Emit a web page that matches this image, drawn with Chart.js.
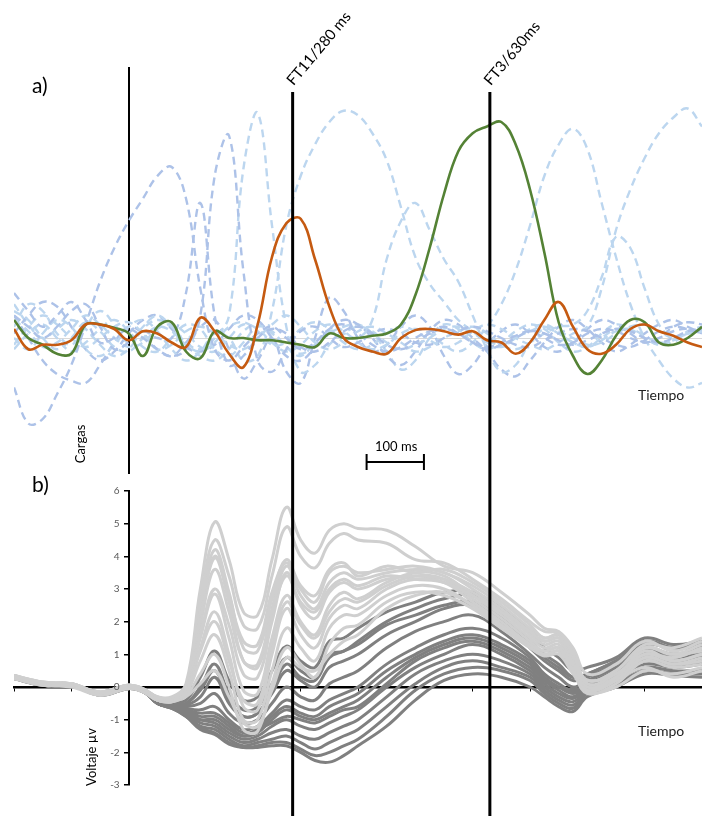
<!DOCTYPE html>
<html lang="es">
<head>
<meta charset="utf-8">
<title>Cargas factoriales y voltaje</title>
<script src="https://cdn.jsdelivr.net/npm/chart.js@4.4.1/dist/chart.umd.min.js"></script>
<style>
  body { margin: 0; background: #fff; }
  #lienzo { position: relative; width: 702px; height: 816px; overflow: hidden; font-family: Lato, 'Open Sans', sans-serif; }
  #lienzo canvas { position: absolute; left: 0; top: 0; }
  .txt { position: absolute; white-space: nowrap; color: #000; line-height: 1; }
  .rot { transform: translate(-50%, -50%) rotate(-90deg); }
</style>
</head>
<body>
<div id="lienzo">
  <canvas id="graficoA" width="702" height="816"></canvas>
  <canvas id="graficoB" width="702" height="816"></canvas>
  <div class="txt" style="left:32px;top:74px;font-size:21px">a)</div>
  <div class="txt" style="left:32px;top:473px;font-size:21px">b)</div>
  <div class="txt rot" style="left:80px;top:444px;font-size:13px">Cargas</div>
  <div class="txt rot" style="left:91px;top:757px;font-size:13px">Voltaje µv</div>
  <div class="txt" style="left:638px;top:388px;font-size:14px;color:#222">Tiempo</div>
  <div class="txt" style="left:638px;top:724px;font-size:14px;color:#222">Tiempo</div>
  <div class="txt" style="left:375px;top:440px;font-size:13px">100 ms</div>
</div>
<script>
// ---- panel a: cargas factoriales (ms) ----
const tiempoA = [-200,-175,-150,-125,-100,-75,-50,-25,
  0,25,50,75,100,125,150,175,
  200,225,250,275,300,325,350,375,
  400,425,450,475,500,525,550,575,
  600,625,650,675,700,725,750,775,
  800,825,850,875,900,925,950,975,1000]

const verdeFT3 = [0.08,0.0,-0.03,-0.07,-0.07,0.06,0.06,0.045,
  0.02,-0.08,0.05,0.07,-0.06,-0.09,0.03,0.0,
  0.0,-0.01,-0.01,-0.02,-0.03,-0.04,0.02,0.0,
  0.0,0.01,0.02,0.06,0.19,0.40,0.64,0.83,
  0.91,0.94,0.96,0.86,0.66,0.38,0.07,-0.08,
  -0.16,-0.10,0.01,0.08,0.07,-0.02,-0.03,0.0,0.05]

const naranjaFT11 = [0.04,-0.05,-0.03,-0.03,-0.01,0.06,0.06,0.04,
  -0.01,0.03,0.02,-0.02,-0.04,0.09,0.03,-0.07,
  -0.13,0.06,0.36,0.51,0.53,0.35,0.14,0.0,
  -0.04,-0.06,-0.07,0.0,0.035,0.04,0.03,0.015,
  0.03,-0.01,-0.02,-0.07,-0.02,0.08,0.16,0.05,
  -0.05,-0.07,-0.03,0.04,0.06,0.03,0.01,-0.02,-0.04]

const otrosFactores = [
  { tono: 'oscuro', v: [-0.22,-0.38,-0.36,-0.25,-0.12,0.06,0.25,0.40,
    0.52,0.62,0.72,0.76,0.62,0.22,-0.05,-0.10,
    -0.04,0.02,0.05,0.0,-0.05,-0.02,0.04,0.06,
    0.02,-0.03,-0.06,-0.04,0.0,0.03,0.05,0.02,
    -0.02,-0.04,-0.02,0.01,0.03,0.0,-0.03,-0.02,
    0.02,0.04,0.03,0.0,-0.02,0.0,0.03,0.04,0.02] },
  { tono: 'oscuro', v: [0.1,0.05,0.0,0.05,0.12,0.15,0.05,-0.05,
    -0.02,0.03,0.0,0.0,0.2,0.6,0.1,-0.12,
    -0.08,0.0,0.04,0.02,-0.04,-0.06,-0.02,0.03,
    0.05,0.02,-0.03,-0.05,-0.02,0.02,0.04,0.02,
    -0.02,-0.05,-0.03,0.0,0.03,0.02,-0.01,-0.03,
    -0.01,0.02,0.04,0.03,0.0,-0.02,0.0,0.03,0.04] },
  { tono: 'oscuro', v: [0.2,0.12,0.05,0.1,0.16,0.08,-0.02,0.0,
    0.04,0.0,-0.05,-0.08,-0.05,0.1,0.72,0.9,
    0.3,-0.1,-0.15,-0.05,0.03,0.05,0.0,-0.04,
    -0.02,0.02,0.04,0.02,-0.02,-0.03,0.0,0.03,
    0.05,0.03,0.0,-0.03,-0.04,-0.01,0.02,0.04,
    0.03,0.0,-0.03,-0.04,-0.01,0.03,0.05,0.04,0.02] },
  { tono: 'claro', v: [0.05,0.15,0.12,0.02,-0.03,0.05,0.12,0.06,
    -0.02,0.05,0.1,0.05,-0.02,-0.05,0.0,0.1,
    0.75,1.0,0.5,0.05,-0.15,-0.12,-0.03,0.02,
    0.05,0.03,-0.02,-0.05,-0.03,0.0,0.04,0.05,
    0.02,-0.01,-0.03,0.0,0.04,0.06,0.03,0.0,
    -0.03,-0.02,0.02,0.05,0.06,0.03,0.0,0.02,0.05] },
  { tono: 'claro', v: [0.0,-0.05,0.02,0.08,0.05,-0.05,-0.08,-0.03,
    0.05,0.08,0.03,-0.05,-0.1,-0.06,0.02,0.0,
    -0.1,-0.08,0.12,0.5,0.72,0.86,0.96,1.01,
    0.99,0.91,0.79,0.58,0.36,0.24,0.16,0.08,
    0.03,-0.02,-0.04,0.0,0.03,0.05,0.02,-0.02,
    -0.04,-0.01,0.03,0.04,0.01,-0.02,-0.01,0.02,0.04] },
  { tono: 'claro', v: [-0.05,0.02,0.06,0.0,-0.06,-0.02,0.04,0.08,
    0.03,-0.04,-0.06,0.0,0.06,0.04,-0.05,-0.08,
    -0.02,0.05,0.03,-0.04,-0.08,-0.02,0.03,0.02,
    0.0,0.08,0.35,0.52,0.6,0.48,0.35,0.25,
    0.1,-0.05,-0.15,-0.12,-0.02,0.04,0.02,-0.02,
    -0.04,0.0,0.04,0.03,0.0,-0.03,-0.01,0.02,0.03] },
  { tono: 'claro', v: [0.08,0.03,-0.04,-0.02,0.04,0.1,0.06,0.0,
    -0.04,-0.02,0.04,0.06,0.02,-0.04,-0.06,0.0,
    0.06,0.04,-0.02,-0.06,-0.03,0.03,0.06,0.03,
    -0.02,-0.05,-0.03,0.02,0.04,0.02,-0.03,-0.06,
    -0.02,0.05,0.15,0.3,0.5,0.72,0.86,0.93,
    0.84,0.6,0.36,0.15,0.0,-0.1,-0.18,-0.22,-0.2] },
  { tono: 'claro', v: [-0.03,0.05,0.1,0.06,0.0,-0.04,0.0,0.05,
    0.07,0.02,-0.05,-0.03,0.03,0.05,0.02,-0.03,
    -0.05,0.0,0.06,0.1,0.05,-0.02,-0.05,-0.02,
    0.03,0.05,0.02,-0.02,-0.06,-0.04,0.0,0.03,
    0.05,0.02,-0.03,-0.05,-0.02,0.02,0.05,0.06,
    0.12,0.27,0.45,0.4,0.22,0.06,0.0,0.02,0.03] },
  { tono: 'claro', v: [0.12,0.08,0.0,-0.05,0.0,0.07,0.03,-0.04,
    -0.06,0.0,0.05,0.03,-0.03,-0.06,-0.02,0.05,
    0.07,0.03,-0.03,-0.02,0.04,0.07,0.04,-0.02,
    -0.05,-0.03,0.02,0.05,0.03,-0.01,-0.04,-0.02,
    0.03,0.06,0.04,0.0,-0.03,-0.05,-0.02,0.02,
    0.05,0.22,0.48,0.66,0.8,0.91,0.98,1.02,0.94] },
  { tono: 'oscuro', v: [0.1,0.0,-0.1,-0.16,-0.19,-0.2,-0.12,-0.02,
    0.05,0.02,-0.05,-0.08,-0.02,0.05,0.08,-0.05,
    -0.18,-0.1,0.0,-0.15,-0.2,0.0,0.18,0.12,
    0.0,-0.06,-0.03,0.05,0.1,0.05,-0.08,-0.16,
    -0.12,-0.03,0.03,0.06,0.02,-0.04,-0.06,-0.02,
    0.04,0.08,0.06,0.02,-0.02,0.0,0.05,0.07,0.06] },
  { tono: 'oscuro', v: [0.02,0.1,0.16,0.14,0.05,-0.05,-0.1,-0.06,
    0.02,0.08,0.1,0.04,-0.04,-0.06,-0.03,0.04,
    0.1,0.08,0.0,-0.08,-0.1,-0.04,0.04,0.08,
    0.06,0.0,-0.08,-0.12,-0.06,0.03,0.08,0.06,
    0.0,-0.06,-0.14,-0.17,-0.1,-0.02,0.05,0.08,
    0.04,-0.02,-0.06,-0.03,0.02,0.06,0.08,0.05,0.02] },
  { tono: 'claro', v: [0.15,0.06,0.0,0.04,0.08,0.04,-0.03,-0.08,
    -0.05,0.04,0.08,0.05,-0.03,-0.08,-0.1,-0.05,
    0.03,0.06,0.02,-0.04,-0.07,-0.03,0.02,0.05,
    0.06,0.02,-0.06,-0.14,-0.1,0.0,0.06,0.04,
    -0.02,-0.05,-0.02,0.03,0.06,0.04,-0.02,-0.06,
    -0.04,0.02,0.06,0.04,0.0,-0.03,-0.02,0.03,0.05] }
]

const factorTiempos = [286, 630]
const factorEtiquetas = ['FT11/280 ms', 'FT3/630ms']
const barraEscala = [415, 515]

// ---- panel b: voltaje (µV) ----
const tiempoB = [-200,-150,-100,-50,0,25,50,75,100,125,150,175,200,225,250,275,300,325,350,375,400,
  450,500,550,600,650,700,725,750,775,800,850,900,950,1000]
const voltajeTicks = [-3,-2,-1,0,1,2,3,4,5,6]

const ondasClaras = [
  [0.35,0.15,0.1,-0.15,0.05,-0.05,-0.3,-0.3,0.1, 3.0,5.05,3.9,2.3,2.2,3.9,5.5,4.5,4.1,4.8,5.0,4.85,4.8,4.3,3.7,3.5,2.9,2.2,1.8,1.7,1.2,0.4,0.7,1.4,1.1,1.4],
  [0.3,0.1,0.05,-0.2,0.0,-0.1,-0.35,-0.35,0.0, 2.6,4.5,3.4,1.9,1.8,3.4,4.9,4.0,3.65,4.4,4.7,4.5,4.4,3.9,3.8,3.3,2.7,2.0,1.7,1.65,1.0,0.2,0.5,1.3,1.2,1.5],
  [0.25,0.1,0.1,-0.2,0.05,-0.1,-0.4,-0.4,-0.1, 2.3,4.2,2.9,1.2,1.1,2.7,3.9,3.1,2.8,3.6,3.8,3.4,3.7,3.5,3.6,3.2,2.6,1.9,1.5,1.6,1.1,0.1,0.4,1.0,0.9,1.2],
  [0.3,0.05,0.0,-0.25,0.0,-0.15,-0.4,-0.45,-0.15, 2.1,3.95,2.6,0.8,0.7,2.4,3.7,2.8,2.4,3.2,3.5,3.3,3.5,3.6,3.5,3.0,2.4,1.7,1.4,1.5,0.9,0.0,0.3,1.1,0.8,1.0],
  [0.35,0.15,0.05,-0.15,0.05,-0.05,-0.3,-0.35,-0.1, 1.6,3.0,1.9,0.4,0.3,2.0,3.5,2.5,2.1,2.9,3.2,3.0,3.3,3.4,3.3,2.9,2.3,1.6,1.3,1.4,0.8,-0.1,0.2,0.9,0.7,0.9],
  [0.3,0.1,0.1,-0.2,0.0,-0.1,-0.4,-0.4,-0.1, 1.5,2.85,1.5,-0.1,-0.2,1.5,2.8,2.0,1.6,2.5,2.9,2.7,3.2,3.5,3.4,2.8,2.2,1.5,1.2,1.3,0.7,0.0,0.3,1.2,1.0,1.1],
  [0.25,0.05,0.05,-0.25,-0.05,-0.15,-0.4,-0.45,-0.2, 1.2,2.3,1.0,-0.6,-0.7,1.0,2.4,1.6,1.2,2.1,2.5,2.4,3.0,3.3,3.2,2.6,2.0,1.3,1.1,1.2,0.5,-0.2,0.1,0.8,0.6,0.7],
  [0.3,0.1,0.05,-0.2,0.0,-0.1,-0.35,-0.4,-0.2, 0.8,1.6,0.5,-1.0,-1.0,0.5,1.8,1.2,0.8,1.8,2.2,2.2,2.8,3.1,3.0,2.5,1.9,1.2,1.0,1.1,0.5,-0.15,0.0,0.5,0.4,0.6],
  [0.35,0.1,0.1,-0.15,0.05,-0.1,-0.35,-0.4,-0.25, 0.4,1.0,0.0,-1.3,-1.35,0.1,1.2,0.7,0.3,1.3,1.8,1.9,2.6,2.9,2.8,2.4,1.8,1.2,0.95,1.0,0.4,-0.1,0.2,0.6,0.3,0.5],
  [0.3,0.1,0.05,-0.2,0.0,-0.1,-0.4,-0.45,-0.3, 0.1,0.5,-0.3,-1.1,-1.2,-0.1,0.9,0.6,0.5,1.0,1.4,1.6,2.4,2.8,2.9,2.5,1.9,1.3,1.0,1.1,0.6,0.2,0.4,1.0,0.9,1.2],
  [0.3,0.1,0.1,-0.2,0.05,-0.1,-0.35,-0.4,-0.1, 1.9,3.6,2.3,0.8,0.6,2.2,3.4,2.6,2.3,3.0,3.3,3.1,3.4,3.3,3.2,2.8,2.3,1.7,1.4,1.5,1.0,0.1,0.3,1.0,0.8,1.0],
  [0.3,0.1,0.05,-0.2,0.0,-0.1,-0.4,-0.4,-0.15, 1.1,2.0,0.8,-0.4,-0.5,1.2,2.6,1.9,1.5,2.3,2.7,2.6,3.1,3.4,3.3,2.7,2.1,1.4,1.1,1.2,0.6,0.0,0.2,0.9,0.7,0.8],
  [0.35,0.15,0.1,-0.15,0.05,-0.05,-0.3,-0.35,0.0, 2.2,4.0,2.8,1.4,1.3,2.9,3.8,3.0,2.6,3.5,3.7,3.5,3.6,3.7,3.5,3.1,2.5,1.8,1.5,1.6,1.0,0.2,0.5,1.2,1.0,1.3]
]

const ondasOscuras = [
  [0.3,0.1,0.05,-0.2,0.0,-0.1,-0.4,-0.45,-0.4, 0.3,1.1,0.2,-0.4,-0.3,0.5,1.25,0.8,0.6,1.4,1.5,1.8,2.3,2.6,2.9,2.9,2.4,1.7,1.2,0.9,0.5,0.6,0.9,1.5,1.3,1.4],
  [0.25,0.05,0.05,-0.25,-0.05,-0.15,-0.45,-0.5,-0.5, 0.0,0.7,-0.2,-0.7,-0.6,0.1,0.9,0.5,0.3,1.0,1.1,1.4,2.0,2.4,2.7,2.8,2.2,1.4,1.0,0.7,0.3,0.4,0.8,1.3,1.2,1.3],
  [0.3,0.1,0.1,-0.2,0.0,-0.1,-0.45,-0.5,-0.55, -0.3,0.3,-0.5,-0.9,-0.8,-0.2,0.5,0.2,0.0,0.6,0.8,1.0,1.6,2.0,2.4,2.5,2.0,1.2,0.8,0.5,0.2,0.3,0.7,1.2,1.0,1.1],
  [0.35,0.1,0.05,-0.2,0.0,-0.1,-0.45,-0.5,-0.6, -0.5,-0.2,-0.8,-1.1,-1.0,-0.5,0.0,-0.3,-0.4,0.1,0.3,0.5,1.2,1.7,2.0,2.2,1.7,1.0,0.6,0.3,0.0,0.2,0.6,1.1,1.0,1.2],
  [0.3,0.1,0.05,-0.2,0.0,-0.1,-0.45,-0.55,-0.65, -0.7,-0.6,-1.0,-1.3,-1.2,-0.8,-0.4,-0.6,-0.7,-0.4,-0.2,0.0,0.7,1.2,1.6,1.8,1.5,0.9,0.4,0.1,-0.1,0.1,0.5,1.0,0.9,1.0],
  [0.25,0.05,0.05,-0.25,-0.05,-0.15,-0.45,-0.55,-0.7, -0.9,-0.9,-1.2,-1.5,-1.4,-1.0,-0.7,-0.9,-1.0,-0.8,-0.6,-0.4,0.3,0.9,1.3,1.5,1.2,0.7,0.2,0.0,-0.2,0.0,0.4,0.9,0.8,0.9],
  [0.3,0.1,0.05,-0.2,0.0,-0.1,-0.5,-0.6,-0.75, -1.0,-1.1,-1.4,-1.6,-1.5,-1.2,-1.0,-1.2,-1.3,-1.1,-0.9,-0.7,0.0,0.6,1.0,1.3,1.0,0.5,0.1,-0.2,-0.35,-0.05,0.3,0.8,0.7,0.8],
  [0.3,0.1,0.05,-0.2,0.0,-0.1,-0.5,-0.6,-0.8, -1.1,-1.2,-1.5,-1.7,-1.6,-1.4,-1.3,-1.5,-1.6,-1.4,-1.2,-1.0,-0.3,0.4,0.8,1.0,0.8,0.4,0.0,-0.3,-0.45,-0.1,0.2,0.7,0.6,0.7],
  [0.3,0.1,0.05,-0.2,0.0,-0.1,-0.5,-0.65,-0.85, -1.2,-1.3,-1.6,-1.8,-1.7,-1.6,-1.5,-1.7,-1.9,-1.7,-1.5,-1.3,-0.6,0.1,0.6,0.8,0.6,0.3,-0.1,-0.4,-0.55,-0.15,0.2,0.6,0.5,0.5],
  [0.3,0.1,0.05,-0.2,0.0,-0.1,-0.5,-0.65,-0.9, -1.25,-1.4,-1.7,-1.85,-1.8,-1.7,-1.7,-1.9,-2.1,-2.0,-1.8,-1.6,-0.9,-0.1,0.4,0.6,0.5,0.2,-0.2,-0.5,-0.65,-0.2,0.1,0.5,0.4,0.4],
  [0.3,0.1,0.05,-0.2,0.0,-0.1,-0.5,-0.65,-0.9, -1.3,-1.45,-1.75,-1.85,-1.85,-1.8,-1.8,-2.0,-2.25,-2.3,-2.1,-1.8,-1.2,-0.4,0.2,0.4,0.3,0.0,-0.3,-0.6,-0.75,-0.3,0.0,0.4,0.35,0.3],
  [0.3,0.1,0.05,-0.2,0.0,-0.1,-0.5,-0.6,-0.8, -1.0,-1.0,-1.3,-1.5,-1.3,-1.1,-0.9,-1.0,-1.1,-0.9,-0.7,-0.6,0.1,0.8,1.2,1.4,1.1,0.6,0.2,-0.1,-0.3,0.0,0.4,0.9,0.8,0.9],
  [0.3,0.1,0.05,-0.2,0.0,-0.1,-0.45,-0.5,-0.5, -0.1,0.5,-0.4,-0.9,-0.8,-0.1,0.7,0.3,0.2,0.9,1.1,1.3,1.9,2.2,2.5,2.6,2.1,1.3,0.9,0.6,0.3,0.4,0.8,1.4,1.2,1.2],
  [0.3,0.1,0.05,-0.2,0.0,-0.1,-0.5,-0.6,-0.7, -0.8,-0.8,-1.1,-1.4,-1.3,-0.9,-0.6,-0.8,-0.9,-0.6,-0.4,-0.2,0.5,1.0,1.4,1.6,1.3,0.8,0.3,0.0,-0.15,0.1,0.5,1.0,0.9,1.0]
]

const fuente = "Lato, 'Open Sans', sans-serif"
const tonos = { oscuro: '#adc2e8', claro: '#bcd6ef' }

const datosA = [
  { data: naranjaFT11, borderColor: '#c55a11', borderWidth: 2.6 },
  { data: verdeFT3, borderColor: '#548235', borderWidth: 2.6 }
]
otrosFactores.forEach(f => {
  datosA.push({ data: f.v, borderColor: tonos[f.tono], borderWidth: 2.4, borderDash: [8, 5] })
})

const barraPlugin = {
  id: 'barra',
  afterDraw(chart) {
    const ctx = chart.ctx, x = chart.scales.x
    const x1 = x.getPixelForValue(barraEscala[0]), x2 = x.getPixelForValue(barraEscala[1])
    ctx.save()
    ctx.strokeStyle = '#000'
    ctx.lineWidth = 2
    ctx.beginPath()
    ctx.moveTo(x1, 462); ctx.lineTo(x2, 462)
    ctx.moveTo(x1, 454); ctx.lineTo(x1, 470)
    ctx.moveTo(x2, 454); ctx.lineTo(x2, 470)
    ctx.stroke()
    ctx.restore()
  }
}

const graficoA = new Chart(document.getElementById('graficoA'), {
  type: 'line',
  data: { labels: tiempoA, datasets: datosA },
  options: {
    responsive: false,
    animation: false,
    layout: { padding: { left: 14, right: 0, top: 68, bottom: 343 } },
    elements: { point: { radius: 0 }, line: { tension: 0.4 } },
    plugins: { legend: { display: false }, tooltip: { enabled: false } },
    scales: {
      x: { type: 'linear', min: -200, max: 1000, position: { y: 0 },
        grid: { display: false }, ticks: { display: false },
        border: { color: '#d9d9d9', width: 1 } },
      y: { min: -0.6, max: 1.2, position: { x: 0 }, z: 1,
        grid: { display: false }, ticks: { display: false },
        border: { color: '#000', width: 2 } }
    }
  },
  plugins: [barraPlugin]
})

const datosB = []
ondasClaras.forEach(v => datosB.push({ data: v, borderColor: '#cfcfcf', borderWidth: 3 }))
ondasOscuras.forEach(v => datosB.push({ data: v, borderColor: '#808080', borderWidth: 3 }))

// etiquetas del eje y a la izquierda del eje (la posicion {x:0} las centra sobre el eje)
const etiquetasPlugin = {
  id: 'etiquetasY',
  afterDraw(chart) {
    const ctx = chart.ctx, x = chart.scales.x, y = chart.scales.y
    const px = x.getPixelForValue(0) - 9
    ctx.save()
    ctx.fillStyle = '#595959'
    ctx.font = '10px ' + fuente
    ctx.textAlign = 'right'
    ctx.textBaseline = 'middle'
    voltajeTicks.forEach(v => ctx.fillText(String(v), px, y.getPixelForValue(v)))
    ctx.restore()
  }
}

const factoresPlugin = {
  id: 'factores',
  afterDraw(chart) {
    const ctx = chart.ctx, x = chart.scales.x
    ctx.save()
    factorTiempos.forEach((t, i) => {
      const px = x.getPixelForValue(t)
      ctx.strokeStyle = '#000'
      ctx.lineWidth = 3
      ctx.beginPath()
      ctx.moveTo(px, 92)
      ctx.lineTo(px, chart.height)
      ctx.stroke()
      ctx.save()
      ctx.translate(px + 3, 88)
      ctx.rotate(-50 * Math.PI / 180)
      ctx.fillStyle = '#000'
      ctx.font = '15px ' + fuente
      ctx.textBaseline = 'bottom'
      ctx.fillText(factorEtiquetas[i], 0, 0)
      ctx.restore()
    })
    ctx.restore()
  }
}

const graficoB = new Chart(document.getElementById('graficoB'), {
  type: 'line',
  data: { labels: tiempoB, datasets: datosB },
  options: {
    responsive: false,
    animation: false,
    layout: { padding: { left: 14, right: 0, top: 491, bottom: 31 } },
    elements: { point: { radius: 0 }, line: { tension: 0.4 } },
    plugins: { legend: { display: false }, tooltip: { enabled: false } },
    scales: {
      x: { type: 'linear', min: -200, max: 1000, position: { y: 0 },
        grid: { display: true, drawOnChartArea: false, tickLength: 3, color: '#000' },
        ticks: { display: false, stepSize: 100 },
        border: { color: '#000', width: 2.5 } },
      y: { min: -3, max: 6, position: { x: 0 },
        afterBuildTicks: s => { s.ticks = voltajeTicks.map(v => ({ value: v })) },
        grid: { display: true, drawOnChartArea: false, tickLength: 4, color: '#000', lineWidth: 1.5 },
        ticks: { display: false },
        border: { color: '#000', width: 2 } }
    }
  },
  plugins: [etiquetasPlugin, factoresPlugin]
})
</script>
</body>
</html>
